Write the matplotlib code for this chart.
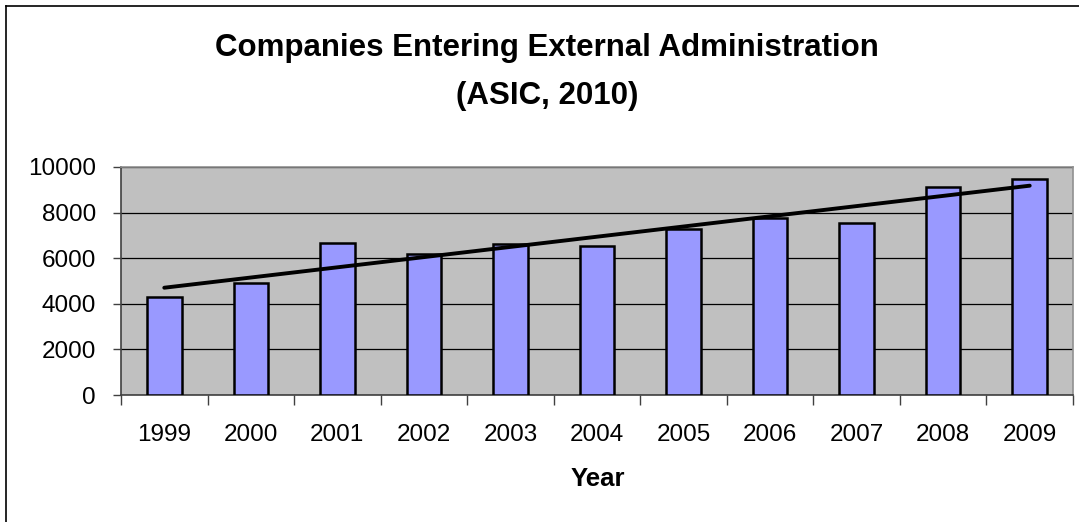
"""Bar chart of companies entering external administration, 1999-2009, with a linear trend."""

import matplotlib
matplotlib.use('Agg')
import matplotlib.pyplot as plt
from matplotlib.lines import Line2D
import numpy as np

years = ['1999', '2000', '2001', '2002', '2003', '2004',
         '2005', '2006', '2007', '2008', '2009']
companies = [4290, 4900, 6660, 6180, 6630, 6540, 7280, 7760, 7540, 9120, 9470]

title_text = 'Companies Entering External Administration\n(ASIC, 2010)'
x_label = 'Year'
y_ticks = [0, 2000, 4000, 6000, 8000, 10000]

plt.rcParams['font.family'] = ['Liberation Sans', 'DejaVu Sans']

W, H = 1079, 522
fig = plt.figure(figsize=(W / 100, H / 100), dpi=100)
fig.patch.set_facecolor('white')

# chart area border (runs off the right and bottom edges)
fig.add_artist(Line2D([6 / W, 6 / W], [0, 1 - 6 / H], transform=fig.transFigure,
                      color='black', lw=1.2))
fig.add_artist(Line2D([6 / W, 1], [1 - 6 / H, 1 - 6 / H], transform=fig.transFigure,
                      color='black', lw=1.2))

left, right, top, bottom = 121, 1073, 167, 395
ax = fig.add_axes([left / W, 1 - bottom / H, (right - left) / W, (bottom - top) / H])
ax.set_facecolor('#c0c0c0')

x = np.arange(len(years))
ax.bar(x, companies, width=0.4, color='#9999ff', edgecolor='black', linewidth=1.8, zorder=3)

# least-squares trend line through the yearly counts
slope, intercept = np.polyfit(x, companies, 1)
ax.plot([x[0], x[-1]], [intercept + slope * x[0], intercept + slope * x[-1]],
        color='black', lw=2.8, solid_capstyle='round', zorder=4)

ax.set_xlim(-0.5, len(years) - 0.5)
ax.set_ylim(0, 10000)
ax.set_yticks(y_ticks)
ax.yaxis.grid(True, color='black', lw=0.9, zorder=1)
ax.set_axisbelow(True)

ax.set_xticks(x)
ax.set_xticklabels(years)
ax.set_xticks(np.arange(-0.5, len(years)), minor=True)
ax.tick_params(axis='x', which='major', length=0, pad=21, labelsize=17.5)
ax.tick_params(axis='x', which='minor', length=7, width=1, color='#404040', direction='out')
ax.tick_params(axis='y', length=6, width=1, color='#404040', pad=12, labelsize=17.5)

for side in ('left', 'bottom'):
    ax.spines[side].set_color('#404040')
    ax.spines[side].set_linewidth(1.2)
for side in ('top', 'right'):
    ax.spines[side].set_color('#909090')
    ax.spines[side].set_linewidth(1.2)

fig.text(547 / W, 1 - 72 / H, title_text, ha='center', va='center',
         fontsize=22.5, fontweight='bold', linespacing=1.78)
fig.text(598 / W, 1 - 479 / H, x_label, ha='center', va='center',
         fontsize=18.5, fontweight='bold')

fig.savefig('out.png', dpi=100)
